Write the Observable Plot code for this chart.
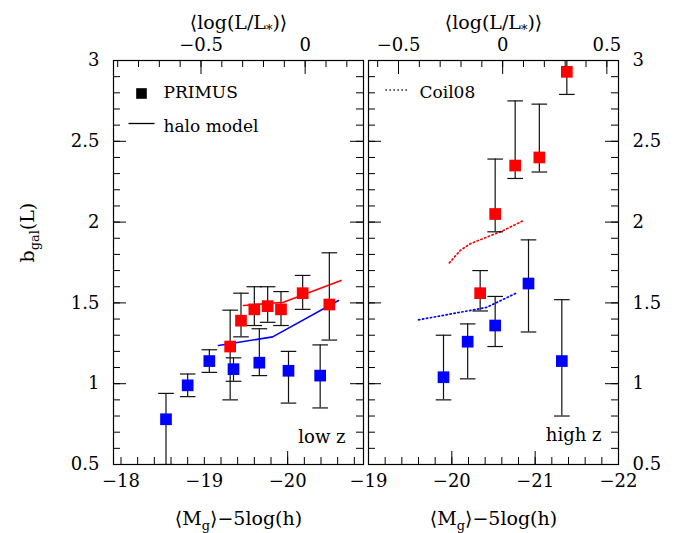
<!DOCTYPE html>
<html>
<head>
<meta charset="utf-8">
<script src="https://cdn.jsdelivr.net/npm/d3@7"></script>
<script src="https://cdn.jsdelivr.net/npm/@observablehq/plot@0.6"></script>
<style>
  html, body { margin: 0; padding: 0; background: #fff; }
  #chart { position: relative; width: 678px; height: 533px; overflow: hidden; background: #fff; }
  #chart svg { position: absolute; top: 0; }
</style>
</head>
<body>
<div id="chart"></div>
<script>
// ---------------- data ----------------
// low z panel : PRIMUS measurements
const lowBlueM  = [-18.54, -18.80, -19.06, -19.35, -19.66, -20.01, -20.39];
const lowBlueB  = [0.78, 0.99, 1.14, 1.09, 1.13, 1.08, 1.05];
const lowBlueLo = [0.50, 0.92, 1.07, 1.015, 1.05, 0.88, 0.85];
const lowBlueHi = [0.94, 1.06, 1.21, 1.16, 1.34, 1.20, 1.24];

const lowRedM  = [-19.31, -19.44, -19.60, -19.76, -19.92, -20.18, -20.50];
const lowRedB  = [1.23, 1.39, 1.46, 1.48, 1.46, 1.56, 1.49];
const lowRedLo = [0.90, 1.29, 1.36, 1.38, 1.36, 1.46, 1.27];
const lowRedHi = [1.455, 1.56, 1.60, 1.60, 1.57, 1.67, 1.81];

// low z halo model
const lowModelRedM  = [-19.47, -19.95, -20.64];
const lowModelRedB  = [1.484, 1.504, 1.639];
const lowModelBlueM = [-19.17, -19.82, -20.61];
const lowModelBlueB = [1.236, 1.29, 1.515];

// high z panel : PRIMUS measurements
const highBlueM  = [-19.90, -20.19, -20.52, -20.92, -21.32];
const highBlueB  = [1.04, 1.26, 1.36, 1.62, 1.14];
const highBlueLo = [0.90, 1.03, 1.23, 1.32, 0.80];
const highBlueHi = [1.30, 1.37, 1.54, 1.89, 1.52];

const highRedM  = [-20.34, -20.52, -20.76, -21.05, -21.38];
const highRedB  = [1.56, 2.05, 2.35, 2.40, 2.93];
const highRedLo = [1.45, 1.94, 2.27, 2.31, 2.79];
const highRedHi = [1.70, 2.39, 2.75, 2.73, 3.05];

// high z Coil08
const coilRedM  = [-19.97, -20.10, -20.22, -20.62, -20.86];
const coilRedB  = [1.748, 1.824, 1.866, 1.948, 2.01];
const coilBlueM = [-19.60, -20.26, -20.42, -20.77];
const coilBlueB = [1.395, 1.457, 1.473, 1.56];

// axes
const yDomain = [0.5, 3];
const yLabels = [0.5, 1, 1.5, 2, 2.5, 3];
const yMinor  = d3.range(5, 31).map(d => d / 10);

const lowXDomain  = [-17.91, -20.91];
const highXDomain = [-19, -22];
const lowXLabels  = [-18, -19, -20];
const highXLabels = [-19, -20, -21, -22];
const lowXMinor   = d3.range(0, 15).map(d => -18 - d * 0.2);
const highXMinor  = d3.range(0, 16).map(d => -19 - d * 0.2);
const lowXLong    = [-20];
const highXLong   = [-20, -21];

const lowMstar  = -20.21;   // M at log(L/L*) = 0
const highMstar = -20.61;
const lowTopLabels  = [-0.5, 0];
const highTopLabels = [-0.5, 0, 0.5];
const lowTopMinor   = d3.range(-9, 3).map(d => d / 10);
const highTopMinor  = d3.range(-6, 6).map(d => d / 10);

// ---------------- helpers ----------------
const FW = 250, FH = 404; // frame size in px (same for both panels)
const rows = (M, B, Lo, Hi) => M.map((m, i) => ({M: m, b: B[i], lo: Lo ? Lo[i] : null, hi: Hi ? Hi[i] : null}));
const fmt = v => (v < -1e-9 ? "\u2212" : "") + String(Math.abs(+(+v).toFixed(2)));
const hline = w => ({draw(ctx) { ctx.moveTo(-w, 0); ctx.lineTo(w, 0); }});
const cap = hline(7.8);
const BLUE = "#0000ff", RED = "#ff0000", BAR = "#111";
const TICK = {stroke: "#000", strokeWidth: 1};

// inward ticks on the four sides, drawn as rules inset from the frame
function yTicks() {
  const m = [];
  for (const [vals, len] of [[yMinor, 7], [yLabels, 13]]) {
    m.push(Plot.ruleY(vals, {y: d => d, insetRight: FW - len, ...TICK}));
    m.push(Plot.ruleY(vals, {y: d => d, insetLeft: FW - len, ...TICK}));
  }
  return m;
}
function xTicks(minor, long, Mstar, topLabels, topMinor) {
  const toM = l => Mstar - 2.5 * l;
  return [
    Plot.ruleX(minor, {x: d => d, insetTop: FH - 7, ...TICK}),
    Plot.ruleX(long, {x: d => d, insetTop: FH - 13, ...TICK}),
    Plot.ruleX(topMinor.map(toM), {x: d => d, insetBottom: FH - 7, ...TICK}),
    Plot.ruleX(topLabels.map(toM), {x: d => d, insetBottom: FH - 14, ...TICK})
  ];
}
function axes(labelSide, labels, Mstar, topLabels) {
  const toM = l => Mstar - 2.5 * l;
  return [
    Plot.axisY(yLabels, {anchor: labelSide, tickSize: 0, tickPadding: 14, tickFormat: fmt, label: null}),
    Plot.axisX(labels, {anchor: "bottom", tickSize: 0, tickPadding: 10, tickFormat: fmt, label: null}),
    Plot.axisX(topLabels.map(toM), {anchor: "top", tickSize: 0, tickPadding: 10,
      tickFormat: d => fmt(Math.round((Mstar - d) / 2.5 * 10) / 10), label: null})
  ];
}

function points(data) {
  return [
    Plot.ruleX(data, {x: "M", y1: "lo", y2: "hi", stroke: BAR, strokeWidth: 1.2, clip: true}),
    Plot.dot(data, {x: "M", y: "hi", symbol: cap, stroke: BAR, fill: "none", strokeWidth: 1.2, clip: true}),
    Plot.dot(data, {x: "M", y: "lo", symbol: cap, stroke: BAR, fill: "none", strokeWidth: 1.2, clip: true})
  ];
}
function squares(data, color) {
  return Plot.dot(data, {x: "M", y: "b", symbol: "square", fill: color, r: 6.6});
}

const titleText = (s, opts) => Plot.text([s], {text: d => d, lineAnchor: "middle", ...opts});

function richify(svg) {
  svg.querySelectorAll("text").forEach(t => {
    const s = t.textContent;
    if (!s.includes("_{")) return;
    t.textContent = "";
    const re = /_\{([^}]*)\}/g;
    let last = 0, m, afterSub = false;
    const ns = "http://www.w3.org/2000/svg";
    const add = (txt, sub) => {
      if (!txt) return;
      const ts = document.createElementNS(ns, "tspan");
      ts.textContent = txt;
      if (sub) { ts.setAttribute("font-size", "0.68em"); ts.setAttribute("dy", "0.45em"); }
      else if (afterSub) { ts.setAttribute("dy", "-0.306em"); }
      t.appendChild(ts);
      afterSub = sub;
    };
    while ((m = re.exec(s))) { add(s.slice(last, m.index), false); add(m[1], true); last = re.lastIndex; }
    add(s.slice(last), false);
  });
}

const common = {
  height: 533, marginTop: 60, marginBottom: 69,
  style: "font-family: 'DejaVu Serif', serif; font-size: 18px; background: transparent; overflow: visible; color: #000;"
};

// ---------------- left panel (low z) ----------------
const lowBlue = rows(lowBlueM, lowBlueB, lowBlueLo, lowBlueHi);
const lowRed  = rows(lowRedM, lowRedB, lowRedLo, lowRedHi);
const leftDims = {width: 366, marginLeft: 113, marginRight: 3};
const left = Plot.plot({
  ...common, ...leftDims,
  y: {domain: yDomain, label: null},
  x: {domain: lowXDomain, label: null},
  marks: [
    ...points(lowBlue), ...points(lowRed),
    Plot.line(rows(lowModelRedM, lowModelRedB), {x: "M", y: "b", stroke: RED, strokeWidth: 1.6}),
    Plot.line(rows(lowModelBlueM, lowModelBlueB), {x: "M", y: "b", stroke: BLUE, strokeWidth: 1.6}),
    squares(lowBlue, BLUE), squares(lowRed, RED),
    ...axes("left", lowXLabels, lowMstar, lowTopLabels),
    Plot.frame({stroke: "#000", strokeWidth: 1.2}),
    // legend
    Plot.dot([0], {frameAnchor: "top-left", dx: 28, dy: 33, symbol: "square", fill: "#000", r: 6}),
    titleText("PRIMUS", {frameAnchor: "top-left", dx: 50, dy: 32.5, textAnchor: "start", fontSize: 17}),
    Plot.dot([0], {frameAnchor: "top-left", dx: 28, dy: 63, symbol: hline(13), stroke: "#000", fill: "none", strokeWidth: 1.3}),
    titleText("halo model", {frameAnchor: "top-left", dx: 50, dy: 66, textAnchor: "start", fontSize: 17}),
    titleText("low z", {frameAnchor: "bottom-right", dx: -18, dy: -27, textAnchor: "end", fontSize: 18}),
    // axis titles
    titleText("\u27E8log(L/L_{*})\u27E9", {frameAnchor: "top", dy: -38, fontSize: 19}),
    titleText("\u27E8M_{g}\u27E9\u22125log(h)", {frameAnchor: "bottom", dy: 54, fontSize: 19}),
    titleText("b_{gal}(L)", {frameAnchor: "left", dx: -86, rotate: -90, fontSize: 19})
  ]
});
// tick overlay for the left panel (same scales and frame)
const leftTicks = Plot.plot({
  ...common, ...leftDims,
  y: {domain: yDomain, label: null, axis: null},
  x: {domain: lowXDomain, label: null, axis: null},
  marks: [...yTicks(), ...xTicks(lowXMinor, lowXLong, lowMstar, lowTopLabels, lowTopMinor)]
});

// ---------------- right panel (high z) ----------------
const highBlue = rows(highBlueM, highBlueB, highBlueLo, highBlueHi);
const highRed  = rows(highRedM, highRedB, highRedLo, highRedHi);
const rightDims = {width: 312, marginLeft: 2, marginRight: 60};
const right = Plot.plot({
  ...common, ...rightDims,
  y: {domain: yDomain, label: null},
  x: {domain: highXDomain, label: null},
  marks: [
    Plot.line(rows(coilRedM, coilRedB), {x: "M", y: "b", stroke: RED, strokeWidth: 1.7, strokeDasharray: "1.3,2.7"}),
    Plot.line(rows(coilBlueM, coilBlueB), {x: "M", y: "b", stroke: BLUE, strokeWidth: 1.7, strokeDasharray: "1.3,2.7"}),
    ...points(highBlue), ...points(highRed),
    squares(highBlue, BLUE), squares(highRed, RED),
    ...axes("right", highXLabels, highMstar, highTopLabels),
    Plot.frame({stroke: "#000", strokeWidth: 1.2}),
    Plot.dot([0], {frameAnchor: "top-left", dx: 28, dy: 29.5, symbol: hline(11), stroke: "#000", fill: "none", strokeWidth: 1.5, strokeDasharray: "1.3,2.7"}),
    titleText("Coil08", {frameAnchor: "top-left", dx: 51, dy: 32.5, textAnchor: "start", fontSize: 17}),
    titleText("high z", {frameAnchor: "bottom-right", dx: -17, dy: -29, textAnchor: "end", fontSize: 18}),
    titleText("\u27E8log(L/L_{*})\u27E9", {frameAnchor: "top", dy: -38, fontSize: 19}),
    titleText("\u27E8M_{g}\u27E9\u22125log(h)", {frameAnchor: "bottom", dy: 54, fontSize: 19})
  ]
});
const rightTicks = Plot.plot({
  ...common, ...rightDims,
  y: {domain: yDomain, label: null, axis: null},
  x: {domain: highXDomain, label: null, axis: null},
  marks: [...yTicks(), ...xTicks(highXMinor, highXLong, highMstar, highTopLabels, highTopMinor)]
});

const chart = document.getElementById("chart");
left.style.left = "0px";
leftTicks.style.left = "0px";
right.style.left = "366px";
rightTicks.style.left = "366px";
chart.appendChild(left);
chart.appendChild(right);
chart.appendChild(leftTicks);
chart.appendChild(rightTicks);
richify(left);
richify(right);
</script>
</body>
</html>
